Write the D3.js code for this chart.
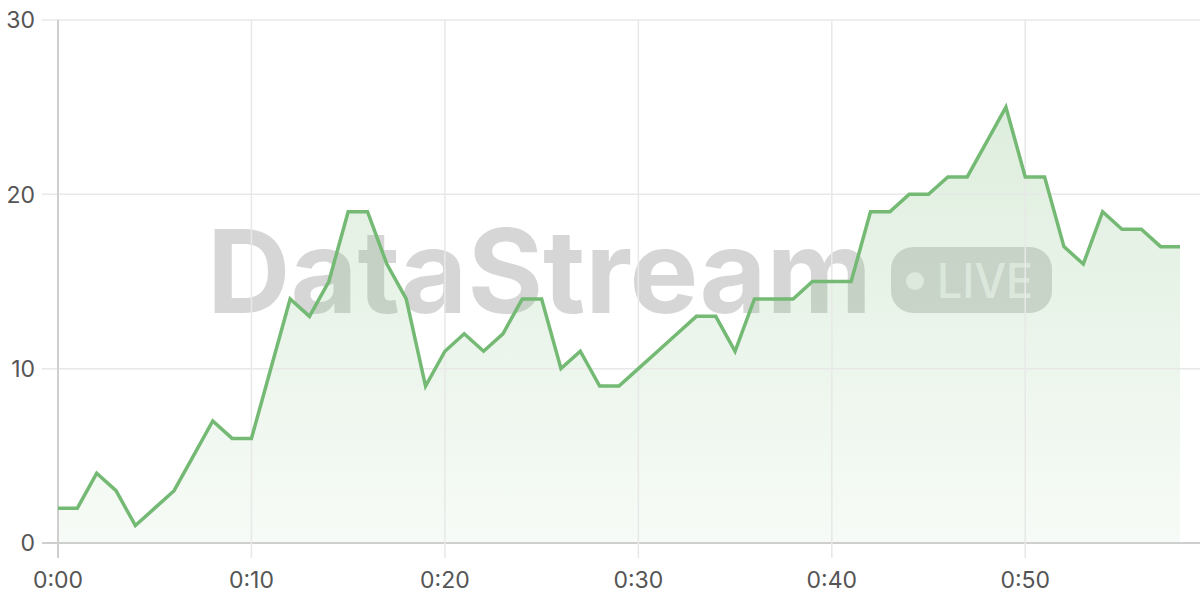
<!DOCTYPE html>
<html><head><meta charset="utf-8">
<script src="https://cdn.jsdelivr.net/npm/d3@7"></script>
<style>html,body{margin:0;padding:0;background:#fff;}svg{display:block;}</style>
</head><body>
<svg id="c" width="1200" height="600"></svg>
<script>
const minutes = d3.range(0, 59);
const values = [2,2,4,3,1,2,3,5,7,6,6,10,14,13,15,19,19,16,14,9,11,12,11,12,14,14,10,11,9,9,10,11,12,13,13,11,14,14,14,15,15,15,19,19,20,20,21,21,23,25,21,21,17,16,19,18,18,17,17];
const yTicks = [0,10,20,30];
const xTicks = [0,10,20,30,40,50];
const xTickLabels = ["0:00","0:10","0:20","0:30","0:40","0:50"];
const watermarkText = "DataStream";
const badgeText = "LIVE";

const svg = d3.select("#c");
const x = d3.scaleLinear().domain([0,58]).range([58,1180]);
const y = d3.scaleLinear().domain([0,30]).range([543,20]);
const font = "Inter, 'Liberation Sans', Arial, sans-serif";

const defs = svg.append("defs");
const grad = defs.append("linearGradient").attr("id","g")
  .attr("gradientUnits","userSpaceOnUse").attr("x1",0).attr("x2",0).attr("y1",y(30)).attr("y2",y(0));
grad.append("stop").attr("offset","0%").attr("stop-color","rgb(118,185,118)").attr("stop-opacity",0.28);
grad.append("stop").attr("offset","100%").attr("stop-color","rgb(118,185,118)").attr("stop-opacity",0.06);

// watermark
const wm = svg.append("g");
wm.append("text").attr("x",207).attr("y",313).attr("textLength",665).attr("lengthAdjust","spacingAndGlyphs")
  .attr("font-family",font).attr("font-weight","bold").attr("font-size",116)
  .attr("fill","rgba(0,0,0,0.16)").text(watermarkText);
wm.append("rect").attr("x",891).attr("y",247).attr("width",161).attr("height",66).attr("rx",22)
  .attr("fill","rgba(0,0,0,0.15)");
wm.append("circle").attr("cx",915).attr("cy",281).attr("r",9).attr("fill","rgba(255,255,255,0.65)");
wm.append("text").attr("x",937).attr("y",298).attr("textLength",96).attr("lengthAdjust","spacingAndGlyphs")
  .attr("font-family",font).attr("font-weight",500).attr("font-size",48).attr("fill","rgba(255,255,255,0.65)").text(badgeText);

// area
const area = d3.area().x((d,i)=>x(minutes[i])).y0(y(0)).y1(d=>y(d));
svg.append("path").datum(values).attr("d",area).attr("fill","url(#g)");

// grid
const grid = svg.append("g");
grid.selectAll(".hy").data(yTicks).join("line")
  .attr("x1",42).attr("x2",1200).attr("y1",d=>y(d)).attr("y2",d=>y(d))
  .attr("stroke",d=>d===0?"#cfcfcf":"#e8e8e8").attr("stroke-width",d=>d===0?2:1.5);
grid.selectAll(".vx").data(xTicks).join("line")
  .attr("x1",d=>x(d)).attr("x2",d=>x(d)).attr("y1",20).attr("y2",558)
  .attr("stroke",d=>d===0?"#cfcfcf":"#e8e8e8").attr("stroke-width",d=>d===0?2:1.5);

// line
const line = d3.line().x((d,i)=>x(minutes[i])).y(d=>y(d));
svg.append("path").datum(values).attr("d",line).attr("fill","none")
  .attr("stroke","#74b974").attr("stroke-width",3.5).attr("stroke-linejoin","miter");

// labels
svg.append("g").selectAll("text").data(yTicks).join("text")
  .attr("x",35).attr("y",d=>y(d)).attr("dy","0.36em").attr("text-anchor","end")
  .attr("font-family",font).attr("font-size",23).attr("fill","#555").text(d=>d);
svg.append("g").selectAll("text").data(xTicks).join("text")
  .attr("x",d=>x(d)).attr("y",580).attr("dy","0.36em").attr("text-anchor","middle")
  .attr("font-family",font).attr("font-size",23).attr("fill","#555").text((d,i)=>xTickLabels[i]);
</script>
</body></html>
